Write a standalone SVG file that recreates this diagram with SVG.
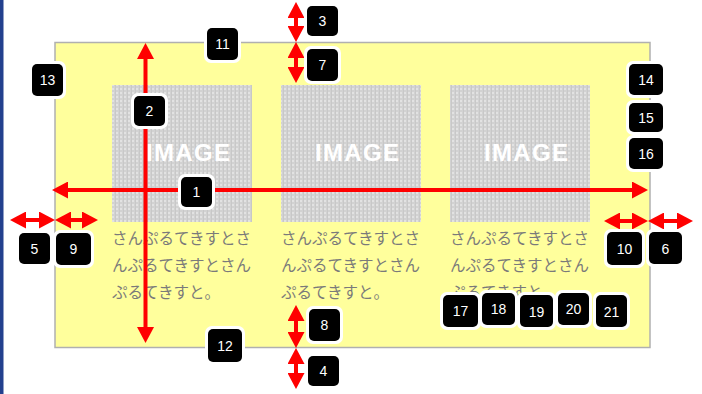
<svg xmlns="http://www.w3.org/2000/svg" width="702" height="394" viewBox="0 0 702 394">
<style>
.jp{font-family:"Noto Sans CJK JP","Noto Sans CJK SC",sans-serif;font-size:15.5px;fill:#7a7a7a}
.img{fill:url(#dots)}
.imgt{font-family:"Liberation Sans",Arial,sans-serif;font-weight:bold;font-size:24px;fill:#ffffff;text-anchor:middle}
.bo{fill:#ffffff}
.bi{fill:#000000}
.bt{font-family:"Liberation Sans",Arial,sans-serif;font-size:14px;fill:#ffffff;text-anchor:middle}
.ar{stroke:#ff0000;stroke-width:4;fill:none}
</style>
<defs>
<pattern id="dots" width="4" height="4" patternUnits="userSpaceOnUse">
<rect width="4" height="4" fill="#d2d2d2"/>
<path d="M0,0 L2,2 M2,0 L0,2" stroke="#e6e6e6" stroke-width="0.8"/>
<rect x="3" y="0" width="1" height="4" fill="#c8c8c8"/>
</pattern>
<marker id="ah" markerUnits="userSpaceOnUse" markerWidth="16" markerHeight="17" viewBox="0 0 16 17" refX="0" refY="8.5" orient="auto-start-reverse">
<path d="M0,0 L16,8.5 L0,17 z" fill="#ff0000"/>
</marker>
</defs>
<rect x="0" y="0" width="702" height="394" fill="#ffffff"/>
<rect x="0" y="0" width="3.5" height="394" fill="#23408e"/>
<rect id="frame" x="55" y="42.5" width="595" height="305" fill="#ffff9c" stroke="#b0b0b0" stroke-width="1.5"/>

<g id="col1">
<rect class="img" x="112" y="85" width="140" height="137"/>
<text class="imgt" x="188" y="161" textLength="84">IMAGE</text>
<text class="jp" x="112" y="244">さんぷるてきすとさ</text>
<text class="jp" x="112" y="271">んぷるてきすとさん</text>
<text class="jp" x="112" y="298">ぷるてきすと。</text>
</g>
<g id="col2">
<rect class="img" x="281" y="85" width="140" height="137"/>
<text class="imgt" x="357" y="161" textLength="84">IMAGE</text>
<text class="jp" x="281" y="244">さんぷるてきすとさ</text>
<text class="jp" x="281" y="271">んぷるてきすとさん</text>
<text class="jp" x="281" y="298">ぷるてきすと。</text>
</g>
<g id="col3">
<rect class="img" x="450" y="85" width="140" height="137"/>
<text class="imgt" x="526" y="161" textLength="84">IMAGE</text>
<text class="jp" x="450" y="244">さんぷるてきすとさ</text>
<text class="jp" x="450" y="271">んぷるてきすとさん</text>
<text class="jp" x="450" y="298">ぷるてきすと。</text>
</g>

<g id="connectors">
<line class="ar" x1="68" y1="190" x2="632" y2="190" marker-start="url(#ah)" marker-end="url(#ah)"/>
<line class="ar" x1="145.5" y1="59" x2="145.5" y2="327" marker-start="url(#ah)" marker-end="url(#ah)"/>
<line class="ar" x1="26" y1="220" x2="39" y2="220" marker-start="url(#ah)" marker-end="url(#ah)"/>
<line class="ar" x1="71" y1="220" x2="82" y2="220" marker-start="url(#ah)" marker-end="url(#ah)"/>
<line class="ar" x1="620" y1="221" x2="632" y2="221" marker-start="url(#ah)" marker-end="url(#ah)"/>
<line class="ar" x1="664" y1="221" x2="677" y2="221" marker-start="url(#ah)" marker-end="url(#ah)"/>
<line class="ar" x1="296" y1="18" x2="296" y2="26" marker-start="url(#ah)" marker-end="url(#ah)"/>
<line class="ar" x1="296" y1="58" x2="296" y2="67" marker-start="url(#ah)" marker-end="url(#ah)"/>
<line class="ar" x1="296" y1="321" x2="296" y2="332" marker-start="url(#ah)" marker-end="url(#ah)"/>
<line class="ar" x1="296" y1="364" x2="296" y2="373" marker-start="url(#ah)" marker-end="url(#ah)"/>
</g>

<g id="b1"><rect class="bo" x="178" y="174" width="37" height="36" rx="7"/><rect class="bi" x="181" y="177" width="31" height="30" rx="5"/><text class="bt" x="196.5" y="197">1</text></g>
<g id="b2"><rect class="bo" x="131" y="93" width="37" height="36" rx="7"/><rect class="bi" x="134" y="96" width="31" height="30" rx="5"/><text class="bt" x="149.5" y="116">2</text></g>
<g id="b3"><rect class="bo" x="304" y="3" width="37" height="36" rx="7"/><rect class="bi" x="307" y="6" width="31" height="30" rx="5"/><text class="bt" x="322.5" y="26">3</text></g>
<g id="b4"><rect class="bo" x="305" y="353" width="37" height="36" rx="7"/><rect class="bi" x="308" y="356" width="31" height="30" rx="5"/><text class="bt" x="323.5" y="376">4</text></g>
<g id="b5"><rect class="bo" x="16" y="230" width="37" height="37" rx="7"/><rect class="bi" x="19" y="233" width="31" height="31" rx="5"/><text class="bt" x="34.5" y="254">5</text></g>
<g id="b6"><rect class="bo" x="646" y="229" width="39" height="38" rx="7"/><rect class="bi" x="649" y="232" width="33" height="32" rx="5"/><text class="bt" x="665.5" y="254">6</text></g>
<g id="b7"><rect class="bo" x="304" y="46" width="37" height="38" rx="7"/><rect class="bi" x="307" y="49" width="31" height="32" rx="5"/><text class="bt" x="322.5" y="70">7</text></g>
<g id="b8"><rect class="bo" x="306" y="306" width="37" height="38" rx="7"/><rect class="bi" x="309" y="309" width="31" height="32" rx="5"/><text class="bt" x="324.5" y="330">8</text></g>
<g id="b9"><rect class="bo" x="53" y="230" width="41" height="38" rx="7"/><rect class="bi" x="56" y="233" width="35" height="32" rx="5"/><text class="bt" x="73.5" y="254">9</text></g>
<g id="b10"><rect class="bo" x="604" y="229" width="41" height="39" rx="7"/><rect class="bi" x="607" y="232" width="35" height="33" rx="5"/><text class="bt" x="624.5" y="254">10</text></g>
<g id="b11"><rect class="bo" x="204" y="25" width="37" height="38" rx="7"/><rect class="bi" x="207" y="28" width="31" height="32" rx="5"/><text class="bt" x="222.5" y="49">11</text></g>
<g id="b12"><rect class="bo" x="205" y="326" width="40" height="39" rx="7"/><rect class="bi" x="208" y="329" width="34" height="33" rx="5"/><text class="bt" x="225" y="351">12</text></g>
<g id="b13"><rect class="bo" x="29" y="61" width="37" height="38" rx="7"/><rect class="bi" x="32" y="64" width="31" height="32" rx="5"/><text class="bt" x="47.5" y="85">13</text></g>
<g id="b14"><rect class="bo" x="626" y="61" width="40" height="37" rx="7"/><rect class="bi" x="629" y="64" width="34" height="31" rx="5"/><text class="bt" x="646" y="85">14</text></g>
<g id="b15"><rect class="bo" x="626" y="100" width="40" height="35" rx="7"/><rect class="bi" x="629" y="103" width="34" height="29" rx="5"/><text class="bt" x="646" y="123">15</text></g>
<g id="b16"><rect class="bo" x="626" y="135" width="40" height="37" rx="7"/><rect class="bi" x="629" y="138" width="34" height="31" rx="5"/><text class="bt" x="646" y="159">16</text></g>
<g id="b17"><rect class="bo" x="440" y="292" width="41" height="38" rx="7"/><rect class="bi" x="443" y="295" width="35" height="32" rx="5"/><text class="bt" x="460.5" y="316">17</text></g>
<g id="b18"><rect class="bo" x="479" y="290" width="39" height="38" rx="7"/><rect class="bi" x="482" y="293" width="33" height="32" rx="5"/><text class="bt" x="498.5" y="314">18</text></g>
<g id="b19"><rect class="bo" x="517" y="292" width="39" height="38" rx="7"/><rect class="bi" x="520" y="295" width="33" height="32" rx="5"/><text class="bt" x="536.5" y="317">19</text></g>
<g id="b20"><rect class="bo" x="555" y="290" width="37" height="38" rx="7"/><rect class="bi" x="558" y="293" width="31" height="32" rx="5"/><text class="bt" x="573.5" y="314">20</text></g>
<g id="b21"><rect class="bo" x="593" y="292" width="37" height="38" rx="7"/><rect class="bi" x="596" y="295" width="31" height="32" rx="5"/><text class="bt" x="611.5" y="317">21</text></g>
</svg>
